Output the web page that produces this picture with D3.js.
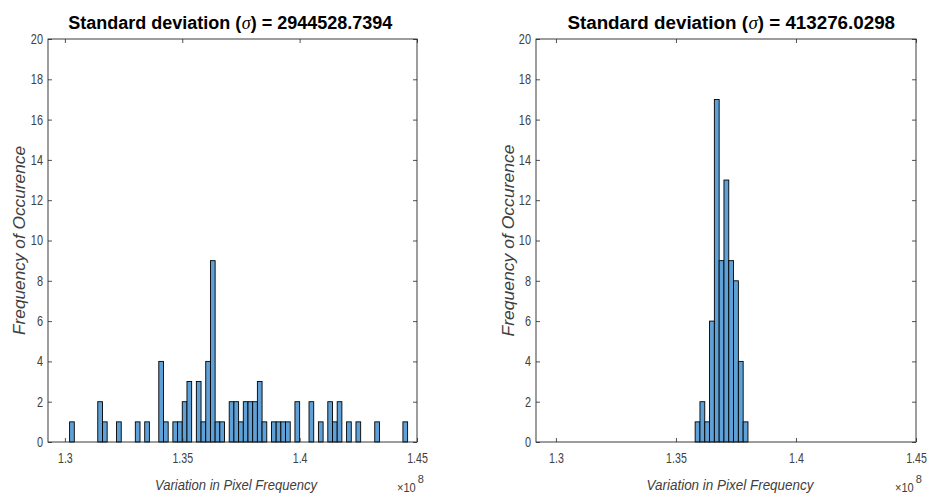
<!DOCTYPE html>
<html>
<head>
<meta charset="utf-8">
<script src="https://cdn.jsdelivr.net/npm/d3@7"></script>
<style>
  html, body { margin: 0; padding: 0; background: #fff; }
  svg { display: block; }
</style>
</head>
<body>
<svg id="chart" width="928" height="498"></svg>
<script>
// ---- data (x in units of 1e8) ----
const binWidth = 0.002;
const leftBinStart = 1.302;
const leftCounts = [
  1,0,0,0,0,0,2,1,0,0,
  1,0,0,0,1,0,1,0,0,4,
  1,0,1,1,2,3,0,3,1,4,
  9,1,1,0,2,2,1,2,2,2,
  3,1,0,1,1,1,1,0,2,0,
  0,2,0,1,0,2,1,2,0,1,
  0,1,0,0,0,1,0,0,0,0,
  0,1
];
const rightBinStart = 1.358;
const rightCounts = [1,2,1,6,17,9,13,9,8,4,1];
const xTicks = [1.3, 1.35, 1.4, 1.45];
const xTickLabels = ["1.3", "1.35", "1.4", "1.45"];
const yTicks = [0,2,4,6,8,10,12,14,16,18,20];
const titles = ["2944528.7394", "413276.0298"];
const xLabel = "Variation in Pixel Frequency";
const yLabel = "Frequency of Occurence";

const svg = d3.select("#chart");
const axisColor = "#262626";
const labelColor = "#404040";
const barFill = "#5fa1d6";
const FONT = "'Liberation Sans', Arial, sans-serif";
const SQX = 0.76;   // horizontal condensing of tick labels
const SQY = 0.78;

const panels = [
  { x0: 48, x1: 417, y0: 39, y1: 442, dom: [1.2928, 1.45], start: leftBinStart, counts: leftCounts,
    title: titles[0], titleX: 230, titleSize: 18, xlabX: 236, xlabLen: 162, ylabX: 25, ylabLen: 189, expX: 397 },
  { x0: 536, x1: 916, y0: 39, y1: 442, dom: [1.2917, 1.45], start: rightBinStart, counts: rightCounts,
    title: titles[1], titleX: 731, titleSize: 18.8, xlabX: 730, xlabLen: 167, ylabX: 514, ylabLen: 192, expX: 895 }
];

panels.forEach(p => {
  const x = d3.scaleLinear().domain(p.dom).range([p.x0, p.x1]);
  const y = d3.scaleLinear().domain([0, 20]).range([p.y1, p.y0]);
  const g = svg.append("g");

  // bars
  const bins = p.counts.map((c, i) => ({ x0: p.start + i * binWidth, x1: p.start + (i + 1) * binWidth, c }))
    .filter(d => d.c > 0);
  g.selectAll("rect.bar").data(bins).enter().append("rect")
    .attr("class", "bar")
    .attr("x", d => x(d.x0))
    .attr("width", d => x(d.x1) - x(d.x0))
    .attr("y", d => y(d.c))
    .attr("height", d => y(0) - y(d.c))
    .attr("fill", barFill)
    .attr("stroke", "#000")
    .attr("stroke-width", 0.9);

  // axes, ticks inward
  const tl = 4;
  const bottom = g.append("g").attr("transform", `translate(0,${p.y1})`)
    .call(d3.axisBottom(x).tickValues(xTicks).tickFormat((d, i) => xTickLabels[i]).tickSizeInner(-tl).tickSizeOuter(0).tickPadding(11));
  const top = g.append("g").attr("transform", `translate(0,${p.y0})`)
    .call(d3.axisTop(x).tickValues(xTicks).tickFormat("").tickSizeInner(-tl).tickSizeOuter(0));
  const left = g.append("g").attr("transform", `translate(${p.x0},0)`)
    .call(d3.axisLeft(y).tickValues(yTicks).tickSizeInner(-tl).tickSizeOuter(0).tickPadding(5));
  const right = g.append("g").attr("transform", `translate(${p.x1},0)`)
    .call(d3.axisRight(y).tickValues(yTicks).tickFormat("").tickSizeInner(-tl).tickSizeOuter(0));
  [bottom, top, left, right].forEach(a => {
    a.select(".domain").remove();
    a.selectAll("line").attr("stroke", axisColor).attr("stroke-width", 0.8);
    a.selectAll("text").attr("fill", labelColor)
      .style("font-family", FONT).style("font-size", "14px");
  });
  // condense tick labels with a transform so their boxes shrink too
  bottom.selectAll("text").attr("transform", `scale(${SQX},1)`);
  left.selectAll("text").attr("x", -5 / SQY).attr("transform", `scale(${SQY},1)`);

  // box
  g.append("rect").attr("x", p.x0).attr("y", p.y0).attr("width", p.x1 - p.x0).attr("height", p.y1 - p.y0)
    .attr("fill", "none").attr("stroke", axisColor).attr("stroke-width", 0.9);

  // title as three separate text pieces, laid out side by side and centred
  const parts = [
    { s: "Standard deviation (", serif: false },
    { s: "σ", serif: true },
    { s: ") = " + p.title, serif: false }
  ];
  const tg = g.append("g");
  const nodes = parts.map(pt => tg.append("text").attr("y", 29)
    .style("font-family", pt.serif ? "'Liberation Serif', 'DejaVu Serif', serif" : FONT)
    .style("font-size", p.titleSize + "px")
    .style("font-weight", pt.serif ? "normal" : "bold")
    .style("font-style", pt.serif ? "italic" : "normal")
    .attr("fill", "#000").text(pt.s));
  const widths = nodes.map(n => n.node().getComputedTextLength());
  const total = d3.sum(widths);
  let cx = p.titleX - total / 2;
  nodes.forEach((n, i) => { n.attr("x", cx); cx += widths[i] + (i === 0 ? 0.5 : 0); });

  // x label
  g.append("text").attr("x", p.xlabX).attr("y", 490).attr("text-anchor", "middle")
    .attr("textLength", p.xlabLen).attr("lengthAdjust", "spacingAndGlyphs")
    .style("font-family", FONT).style("font-size", "15px")
    .style("font-style", "italic").attr("fill", labelColor).text(xLabel);

  // exponent: "×10" and superscript "8" as separate texts
  const eg = g.append("g").attr("transform", `translate(${p.expX},492) scale(0.85,1)`);
  const e = eg.append("text").attr("x", 0).attr("y", 0)
    .style("font-family", FONT).style("font-size", "13px").attr("fill", labelColor).text("×10");
  const ew = e.node().getComputedTextLength() * 0.85;
  g.append("text").attr("x", p.expX + ew + 2).attr("y", 483)
    .style("font-family", FONT).style("font-size", "11px").attr("fill", labelColor).text("8");

  // y label
  const cy = (p.y0 + p.y1) / 2;
  g.append("text").attr("transform", `translate(${p.ylabX},${cy}) rotate(-90)`)
    .attr("text-anchor", "middle").attr("textLength", p.ylabLen).attr("lengthAdjust", "spacingAndGlyphs")
    .style("font-family", FONT).style("font-size", "16px")
    .style("font-style", "italic").attr("fill", labelColor).text(yLabel);
});
</script>
</body>
</html>
